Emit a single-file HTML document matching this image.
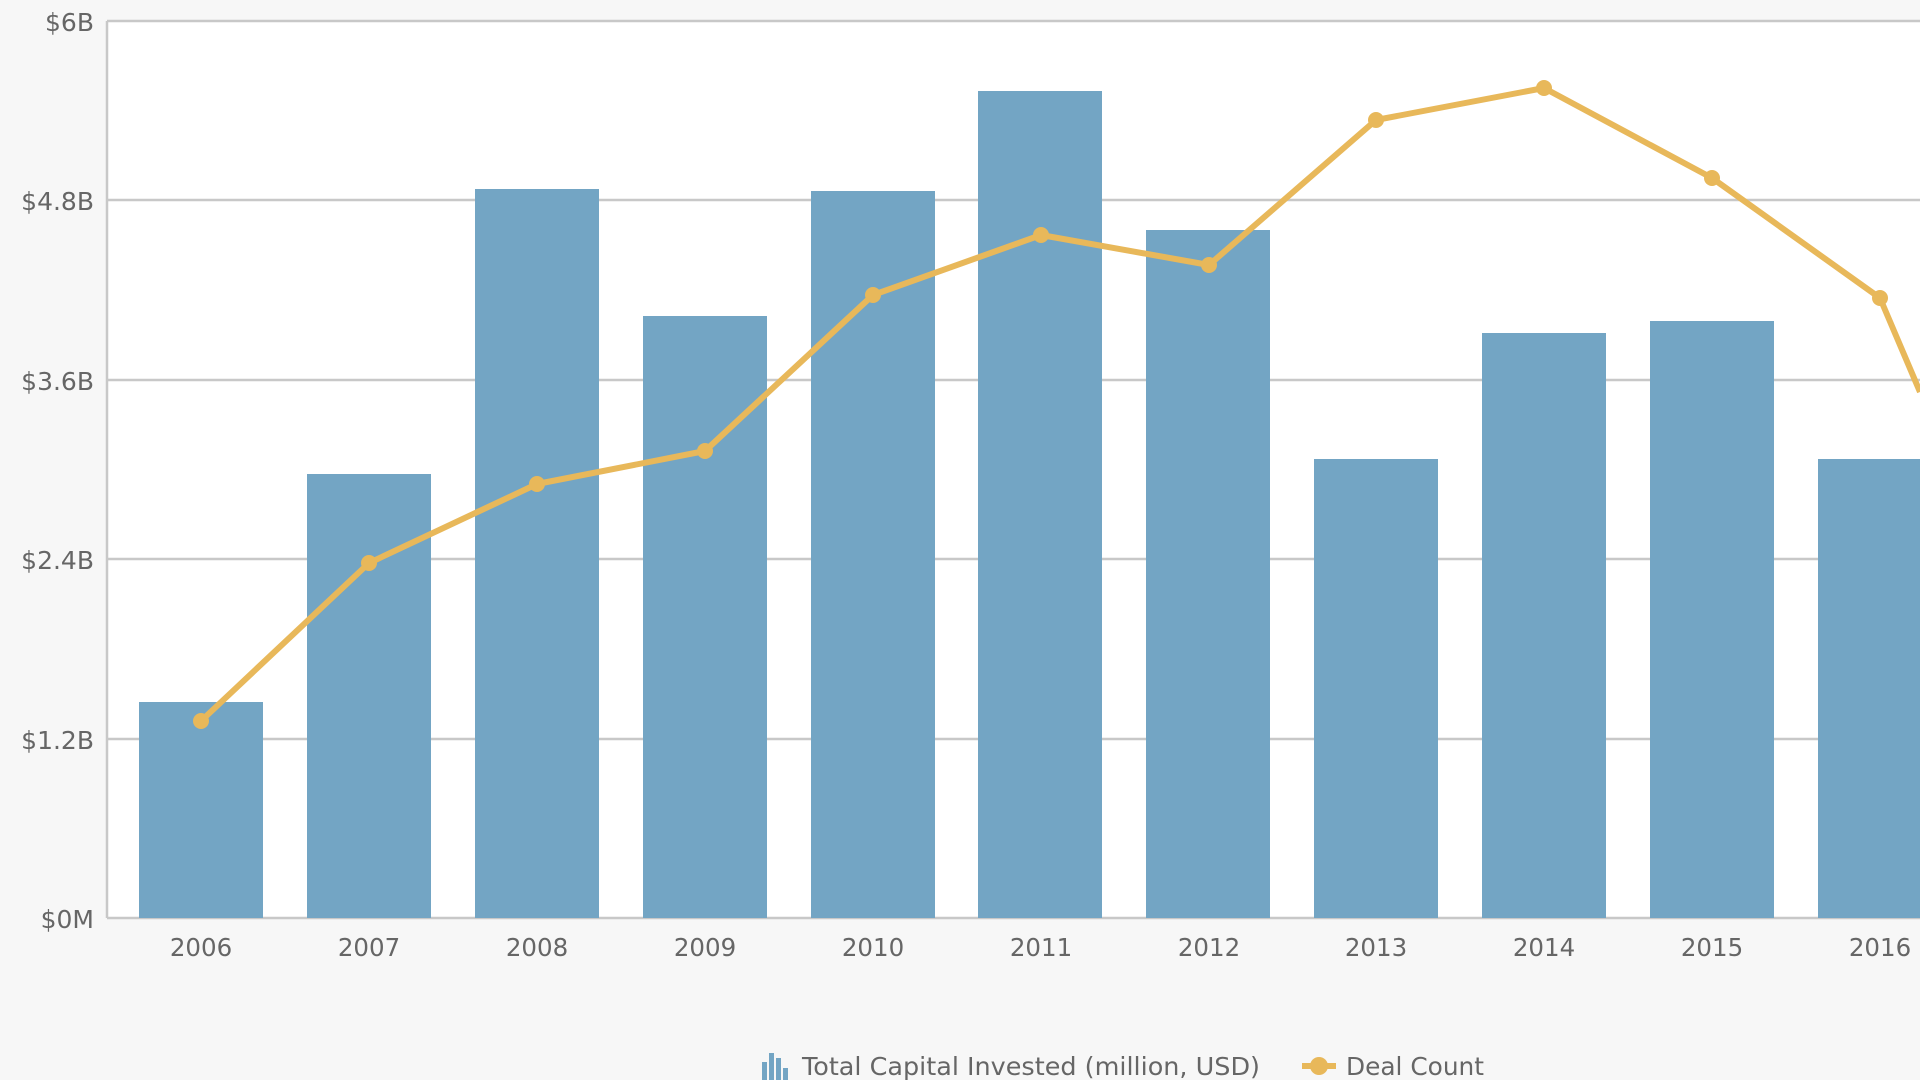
<!DOCTYPE html>
<html><head><meta charset="utf-8"><style>
html,body{margin:0;padding:0;background:#f7f7f7;}
svg{display:block;}
</style></head><body>
<svg width="1920" height="1080" viewBox="0 0 1920 1080" xmlns="http://www.w3.org/2000/svg">
<rect width="1920" height="1080" fill="#f7f7f7"/>
<rect x="107" y="21" width="1813" height="897" fill="#ffffff"/>
<g stroke="#c8c8c8" stroke-width="2.5">
<line x1="107" y1="21" x2="1920" y2="21"/>
<line x1="107" y1="200" x2="1920" y2="200"/>
<line x1="107" y1="380" x2="1920" y2="380"/>
<line x1="107" y1="559" x2="1920" y2="559"/>
<line x1="107" y1="739" x2="1920" y2="739"/>
<line x1="107" y1="918" x2="1920" y2="918"/>
<line x1="107" y1="21" x2="107" y2="918"/>
</g>
<g font-family="'DejaVu Sans','Liberation Sans',sans-serif" font-size="25" fill="#666" text-anchor="end">
<text x="94" y="31">$6B</text>
<text x="94" y="210">$4.8B</text>
<text x="94" y="390">$3.6B</text>
<text x="94" y="569">$2.4B</text>
<text x="94" y="749">$1.2B</text>
<text x="94" y="928">$0M</text>
</g>
<g fill="#73a5c4">
<rect x="139" y="702" width="124" height="216"/>
<rect x="307" y="474" width="124" height="444"/>
<rect x="475" y="189" width="124" height="729"/>
<rect x="643" y="316" width="124" height="602"/>
<rect x="811" y="191" width="124" height="727"/>
<rect x="978" y="91" width="124" height="827"/>
<rect x="1146" y="230" width="124" height="688"/>
<rect x="1314" y="459" width="124" height="459"/>
<rect x="1482" y="333" width="124" height="585"/>
<rect x="1650" y="321" width="124" height="597"/>
<rect x="1818" y="459" width="124" height="459"/>
</g>
<polyline fill="none" stroke="#e8b85a" stroke-width="6" stroke-linejoin="round" points="201,721 369,563 537,484 705,451 873,295 1041,235 1209,265 1376,120 1544,88 1712,178 1880,298 1920,392"/>
<g fill="#e8b85a">
<circle cx="201" cy="721" r="8"/><circle cx="369" cy="563" r="8"/><circle cx="537" cy="484" r="8"/><circle cx="705" cy="451" r="8"/><circle cx="873" cy="295" r="8"/><circle cx="1041" cy="235" r="8"/><circle cx="1209" cy="265" r="8"/><circle cx="1376" cy="120" r="8"/><circle cx="1544" cy="88" r="8"/><circle cx="1712" cy="178" r="8"/><circle cx="1880" cy="298" r="8"/>
</g>
<g font-family="'DejaVu Sans','Liberation Sans',sans-serif" font-size="24.5" fill="#666" text-anchor="middle">
<text x="201" y="956">2006</text><text x="369" y="956">2007</text><text x="537" y="956">2008</text><text x="705" y="956">2009</text><text x="873" y="956">2010</text><text x="1041" y="956">2011</text><text x="1209" y="956">2012</text><text x="1376" y="956">2013</text><text x="1544" y="956">2014</text><text x="1712" y="956">2015</text><text x="1880" y="956">2016</text>
</g>
<g fill="#73a5c4">
<rect x="762" y="1062" width="5" height="18"/><rect x="769" y="1053" width="5" height="27"/><rect x="776" y="1058" width="5" height="22"/><rect x="783" y="1068" width="5" height="12"/>
</g>
<line x1="1302" y1="1066" x2="1336" y2="1066" stroke="#e8b85a" stroke-width="6"/>
<circle cx="1319" cy="1066" r="9" fill="#e8b85a"/>
<g font-family="'DejaVu Sans','Liberation Sans',sans-serif" font-size="25" fill="#666">
<text x="802" y="1075" textLength="458" lengthAdjust="spacingAndGlyphs">Total Capital Invested (million, USD)</text>
<text x="1346" y="1075" textLength="138" lengthAdjust="spacingAndGlyphs">Deal Count</text>
</g>
</svg>
</body></html>
